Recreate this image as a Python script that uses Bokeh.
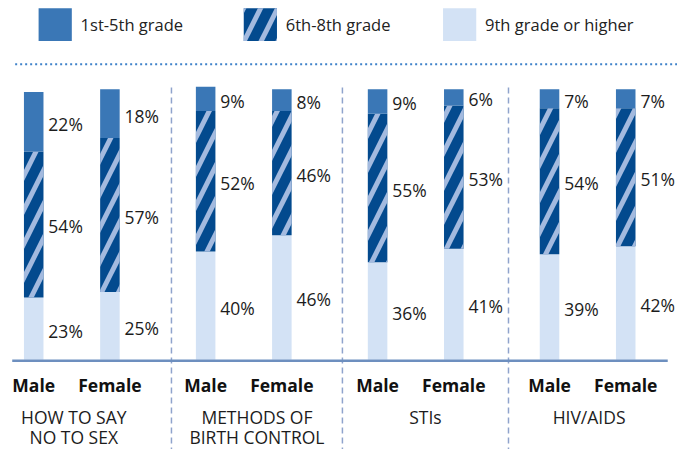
from bokeh.plotting import figure
from bokeh.models import Range1d, ColumnDataSource
from bokeh.core.properties import value
from bokeh.embed import file_html
from bokeh.resources import INLINE

# ---------------- data ----------------
topics = [["HOW TO SAY", "NO TO SEX"], ["METHODS OF", "BIRTH CONTROL"], ["STIs"], ["HIV/AIDS"]]
sexes = ["Male", "Female"]
series = ["1st-5th grade", "6th-8th grade", "9th grade or higher"]
# values per bar, ordered topic by topic, Male then Female
grade_1_5 = [22, 18, 9, 8, 9, 6, 7, 7]
grade_6_8 = [54, 57, 52, 46, 55, 53, 54, 51]
grade_9_up = [23, 25, 40, 46, 36, 41, 39, 42]

# ---------------- layout / style ----------------
W, H = 677, 449
REF_W, REF_H = 693, 465
PX_PER_PCT = 2.8
BASE_Y = 372          # design row of the baseline
GROUP_X0, GROUP_STEP, SEX_OFF, BAR_W = 73, 176, 39, 20
SEP_X = [175, 350, 520]
BOUNDS = [-25] + SEP_X + [685]
FONT = "Open Sans"
TXT = "#1c1c1c"
C_15 = "#3a77b6"
C_68 = "#034a8e"
C_STRIPE = "#a3badf"
C_9 = "#d3e2f5"


def py(ref_y):
    """design pixel row -> data units (percent)"""
    return (BASE_Y - ref_y) / PX_PER_PCT


p = figure(width=W, height=H, output_backend="svg", toolbar_location=None,
           x_range=Range1d(0, REF_W), y_range=Range1d(py(REF_H), py(0)),
           min_border=0)
p.axis.visible = False
p.grid.visible = False
p.outline_line_color = None
p.background_fill_color = "white"

# bar positions
xs, sex_lab = [], []
for gi in range(len(topics)):
    c = GROUP_X0 + gi * GROUP_STEP
    for si, s in enumerate(sexes):
        xs.append(c + (-SEX_OFF if si == 0 else SEX_OFF))
        sex_lab.append(s)

b0 = [0] * len(xs)
t0 = grade_9_up
t1 = [a + b for a, b in zip(t0, grade_6_8)]
t2 = [a + b for a, b in zip(t1, grade_1_5)]

src = ColumnDataSource(dict(x=xs, b0=b0, t0=t0, t1=t1, t2=t2))

# separators (behind)
p.segment(x0=SEP_X, x1=SEP_X, y0=[py(90)] * 3, y1=[py(REF_H)] * 3,
          line_color="#8fa3cc", line_width=1.5, line_dash="6 4")

HATCH = dict(hatch_color=C_STRIPE, hatch_scale=34, hatch_weight=5)
p.vbar(x="x", bottom="b0", top="t0", width=BAR_W, source=src,
       fill_color=C_9, line_color=None)
p.vbar(x="x", bottom="t0", top="t1", width=BAR_W, source=src,
       fill_color=C_68, line_color=None, hatch_pattern="/", **HATCH)
p.vbar(x="x", bottom="t1", top="t2", width=BAR_W, source=src,
       fill_color=C_15, line_color=None)

# baseline
p.segment(x0=[12], x1=[683], y0=[py(373)], y1=[py(373)],
          line_color="#6d8fbf", line_width=2.5)

# percentage labels
lab_x, lab_y, lab_t = [], [], []
off = 2 / PX_PER_PCT
for i, x in enumerate(xs):
    for lo, hi, v in ((b0[i], t0[i], grade_9_up[i]), (t0[i], t1[i], grade_6_8[i]),
                      (t1[i], t2[i], grade_1_5[i])):
        lab_x.append(x + BAR_W / 2 + 5)
        lab_y.append((lo + hi) / 2 - off)
        lab_t.append(f"{v}%")
p.text(x=lab_x, y=lab_y, text=lab_t, text_font=value(FONT), text_font_size="17.5px",
       text_color=TXT, text_align="left", text_baseline="middle")

# Male / Female labels
p.text(x=xs, y=[py(398)] * len(xs), text=sex_lab, text_font=value(FONT),
       text_font_size="17.5px", text_font_style="bold", text_color="#111111",
       text_align="center", text_baseline="middle")

# topic labels
tx, ty, tt = [], [], []
for gi, lines in enumerate(topics):
    cx = (BOUNDS[gi] + BOUNDS[gi + 1]) / 2
    for li, line in enumerate(lines):
        tx.append(cx)
        ty.append(py(431 + li * 21))
        tt.append(line)
p.text(x=tx, y=ty, text=tt, text_font=value(FONT), text_font_size="17.5px",
       text_color=TXT, text_align="center", text_baseline="middle")

# legend
leg_x = [39, 249, 453]
leg_fill = [C_15, C_68, C_9]
leg_hatch = [" ", "/", " "]
p.quad(left=leg_x, right=[x + 34 for x in leg_x], top=[py(8)] * 3, bottom=[py(42)] * 3,
       fill_color=leg_fill, line_color=None, hatch_pattern=leg_hatch, **HATCH)
p.text(x=[x + 43 for x in leg_x], y=[py(25)] * 3, text=series, text_font=value(FONT),
       text_font_size="16.5px", text_color="#222222", text_align="left",
       text_baseline="middle")

# dotted rule
p.segment(x0=[15], x1=[693], y0=[py(66)], y1=[py(66)], line_color="#3f82c9",
          line_width=2, line_dash="2 3")

open("out.html", "w").write(file_html(p, INLINE))
